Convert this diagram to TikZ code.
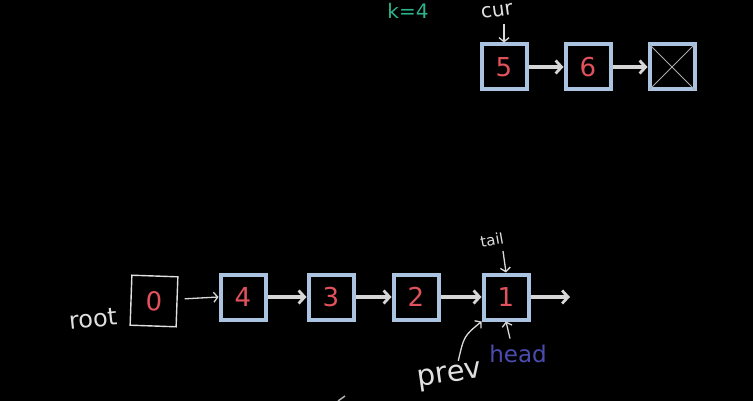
\documentclass[tikz,border=0pt]{standalone}
\usepackage{fontspec}
\setmainfont{DejaVu Sans}
\usetikzlibrary{arrows.meta,calc}
\definecolor{boxblue}{HTML}{A9C3E0}
\definecolor{numred}{HTML}{E2525C}
\definecolor{linkgray}{HTML}{D6D6D6}
\definecolor{kgreen}{HTML}{2DB38C}
\definecolor{headblue}{HTML}{4C4CB0}
\tikzset{
  listbox/.style={draw=boxblue, line width=4pt, fill=black, minimum width=45pt, minimum height=45pt, inner sep=0pt, text=numred, font=\fontsize{26}{26}\selectfont},
  link/.style={draw=linkgray, line width=3.5pt, -{Straight Barb[length=6pt,width=13pt,line width=2.8pt]}},
  thinarrow/.style={draw=white!85!black, line width=1.3pt, -{Straight Barb[length=4pt,width=10pt]}},
  hand/.style={text=white!88!black, inner sep=1pt}
}
\begin{document}
\begin{tikzpicture}[x=1pt,y=-1pt]
\fill[black] (0,0) rectangle (753,401);
\useasboundingbox (0,0) rectangle (753,401);
\clip (0,0) rectangle (753,401);
% top list
\node[listbox] (n5) at (504,67) {5};
\node[listbox] (n6) at (588,67) {6};
\node[listbox] (nx) at (672,67) {};
\draw[linkgray!80!black, line width=0.8pt] ($(nx.north west)+(2,2)$) -- ($(nx.south east)+(-2,-2)$);
\draw[linkgray!80!black, line width=0.8pt] ($(nx.north east)+(-2,2)$) -- ($(nx.south west)+(2,-2)$);
\draw[link] (n5) -- (n6);
\draw[link] (n6) -- (nx);
\node[hand, font=\fontsize{20}{20}\selectfont, rotate=8] (cur) at (497,11) {cur};
\node[text=kgreen, font=\fontsize{20}{20}\selectfont] (k) at (408,11) {k=4};
\draw[thinarrow] (n5.north |- 0,24) -- (n5.north);
% bottom list
\node[draw=white!88!black, line width=1.4pt, fill=black, minimum width=46pt, minimum height=50pt, inner sep=0pt, text=numred, font=\fontsize{26}{26}\selectfont, rotate=-2] (n0) at (154,301) {0};
\node[hand, font=\fontsize{24}{24}\selectfont, rotate=6] (root) at (93,319) {root};
\node[listbox] (n4) at (243,297) {4};
\node[listbox] (n3) at (331,297) {3};
\node[listbox] (n2) at (416,297) {2};
\node[listbox] (n1) at (506,297) {1};
\coordinate (end) at (570,297);
\draw[thinarrow] ($(n0.east)+(7,-3)$) -- (n4.west);
\draw[link] (n4) -- (n3);
\draw[link] (n3) -- (n2);
\draw[link] (n2) -- (n1);
\draw[link] (n1) -- (end);
\node[hand, font=\fontsize{15}{15}\selectfont, rotate=10] (tail) at (492,240) {tail};
\draw[thinarrow] (503,251) -- (n1.north);
\node[text=headblue, font=\fontsize{23}{23}\selectfont] (head) at (518,354) {head};
\draw[thinarrow] ($(head.north)+(-8,-3)$) -- (n1.south);
\node[hand, font=\fontsize{29}{29}\selectfont, rotate=8] (prev) at (450,377) {prev};
\draw[thinarrow] ($(prev.north)+(10,-4)$) .. controls (464,336) .. (n1.south west);
\draw[white!70!black, line width=1.5pt] (338,401) -- (345,396);
\end{tikzpicture}
\end{document}
